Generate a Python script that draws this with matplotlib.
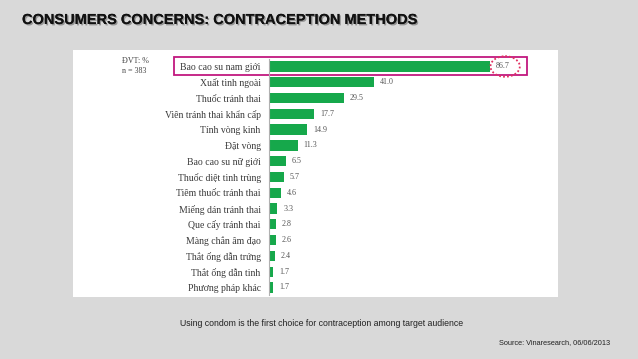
import matplotlib
matplotlib.use("Agg")
import matplotlib.pyplot as plt
import matplotlib.patheffects as pe
from matplotlib.patches import Rectangle, Ellipse

# du lieu doc tu hinh
methods = ["Bao cao su nam giới", "Xuất tinh ngoài", "Thuốc tránh thai",
           "Viên tránh thai khẩn cấp", "Tính vòng kinh", "Đặt vòng",
           "Bao cao su nữ giới", "Thuốc diệt tinh trùng", "Tiêm thuốc tránh thai",
           "Miếng dán tránh thai", "Que cấy tránh thai", "Màng chắn âm đạo",
           "Thắt ống dẫn trứng", "Thắt ống dẫn tinh", "Phương pháp khác"]
values = [86.7, 41.0, 29.5, 17.7, 14.9, 11.3, 6.5, 5.7, 4.6, 3.3, 2.8, 2.6, 2.4, 1.7, 1.7]

title = "CONSUMERS CONCERNS: CONTRACEPTION METHODS"
caption = "Using condom is the first choice for contraception among target audience"
source = "Source: Vinaresearch, 06/06/2013"

fig = plt.figure(figsize=(6.38, 3.59), dpi=100)
fig.patch.set_facecolor("#d9d9d9")

# khung trang
fig.patches.append(Rectangle((73 / 638, 1 - 297 / 359), (558 - 73) / 638, (297 - 50) / 359,
                             transform=fig.transFigure, facecolor="white", edgecolor="none", zorder=-5))

ax = fig.add_axes([269 / 638, 0.1772, (530 - 269) / 638, 0.8368 - 0.1772])
ax.set_facecolor("none")
ypos = list(range(len(methods)))
ax.barh(ypos, values, height=0.65, color="#16a84b")
ax.set_ylim(len(methods) - 0.5, -0.5)
ax.set_xlim(0, 102.35)
ax.set_yticks(ypos)
ax.set_yticklabels(methods, family="Liberation Serif", fontsize=7.0, color="#3a3a3a")
ax.tick_params(axis="y", length=0, pad=6)
ax.set_xticks([])
for s in ["top", "right", "bottom"]:
    ax.spines[s].set_visible(False)
ax.spines["left"].set_color("#b0b0b0")
ax.spines["left"].set_linewidth(0.8)

for i, v in enumerate(values):
    ax.text(v + 2.3, i, "%.1f" % v, va="center", ha="left", family="Liberation Serif",
            fontsize=5.8, color="#555555")

# khung hong va vong tron
ax.add_patch(Rectangle((-37.3, -0.62), 138.5, 1.16, fill=False, edgecolor="#c2187f",
                       linewidth=1.3, clip_on=False))
ax.add_patch(Ellipse((92.6, 0.0), 11.5, 1.3, fill=False, edgecolor="#e03060",
                     linewidth=1.3, linestyle=(0, (1, 1.2)), clip_on=False))

fig.text(122 / 638, 1 - 61 / 359, "ĐVT: %", family="Liberation Serif", fontsize=5.8,
         color="#444444", va="center")
fig.text(122 / 638, 1 - 71 / 359, "n = 383", family="Liberation Serif", fontsize=5.8,
         color="#444444", va="center")

fig.text(22 / 638, 1 - 20 / 359, title, family="Liberation Sans",
         fontweight="bold", fontsize=10.5, color="#111111", va="center",
         path_effects=[pe.withSimplePatchShadow(offset=(1, -1), shadow_rgbFace="#777777", alpha=0.7),
                       pe.Normal()])
fig.text(180 / 638, 1 - 323 / 359, caption, family="Liberation Sans",
         fontsize=6.3, color="#222222", va="center")
fig.text(610 / 638, 1 - 343 / 359, source, family="Liberation Sans",
         fontsize=5.3, color="#222222", va="center", ha="right")

fig.savefig("out.png", dpi=100, facecolor=fig.get_facecolor())
